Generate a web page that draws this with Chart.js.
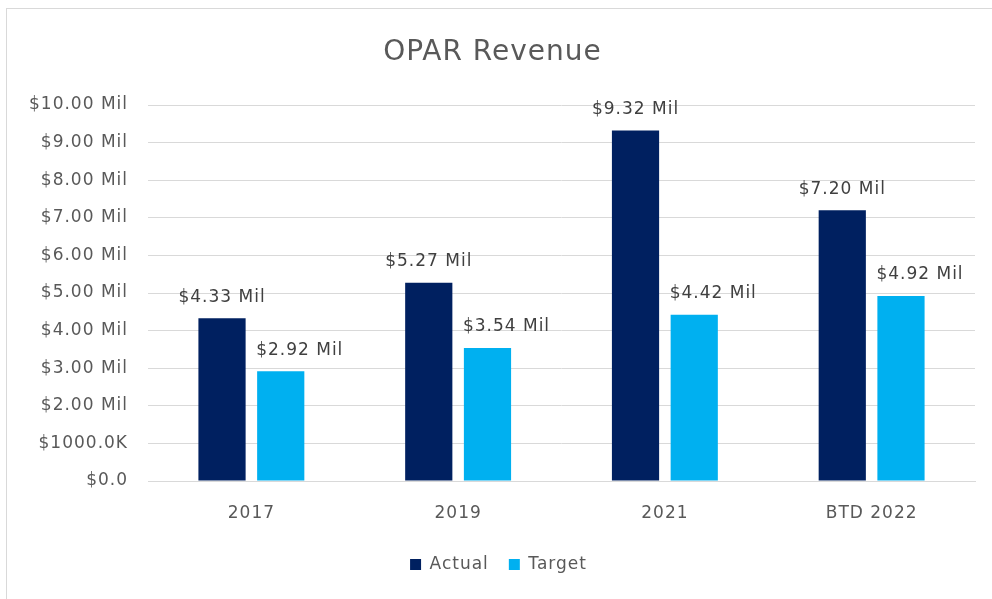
<!DOCTYPE html>
<html>
<head>
    <title>OPAR Revenue</title>
    <style>
        body {
            margin: 0;
            background-color: #ffffff;
        }

        #chartBox {
            position: absolute;
            left: 0;
            top: 0;
            width: 992px;
            height: 599px;
        }

        #frame {
            position: absolute;
            left: 6px;
            top: 8px;
            width: 990px;
            height: 595px;
            border-left: 1px solid #d9d9d9;
            border-top: 1px solid #d9d9d9;
        }
    </style>
    <script src="https://cdn.jsdelivr.net/npm/chart.js"></script>
</head>
<body>
    <div id="frame"></div>
    <div id="chartBox">
        <canvas id="revenueChart" width="992" height="599"></canvas>
    </div>

    <script>
        // datos (millones de dolares)
        var categorias = ['2017', '2019', '2021', 'BTD 2022'];
        var actual = [4.33, 5.27, 9.32, 7.20];
        var objetivo = [2.92, 3.54, 4.42, 4.92];

        var grisTexto = '#595959';
        var fuente = 'DejaVu Sans, sans-serif';

        function formatoEje(v) {
            if (v === 0) return '$0.0';
            if (v === 1) return '$1000.0K';
            return '$' + v.toFixed(2) + ' Mil';
        }

        // etiquetas encima de las barras
        var etiquetasPlugin = {
            id: 'etiquetas',
            afterDatasetsDraw: function(chart) {
                var ctx = chart.ctx;
                ctx.save();
                ctx.font = '17px ' + fuente;
                ctx.fillStyle = '#404040';
                ctx.textAlign = 'center';
                ctx.textBaseline = 'middle';
                try { ctx.letterSpacing = '1px'; } catch (e) {}
                chart.data.datasets.forEach(function(ds, i) {
                    var meta = chart.getDatasetMeta(i);
                    var desplaza = i === 1 ? 19 : 0;
                    meta.data.forEach(function(bar, j) {
                        ctx.fillText('$' + ds.data[j].toFixed(2) + ' Mil', bar.x + desplaza, bar.y - 21);
                    });
                });
                ctx.restore();
            }
        };

        var espaciadoPlugin = {
            id: 'espaciado',
            beforeDraw: function(chart) {
                try { chart.ctx.letterSpacing = '1px'; } catch (e) {}
            }
        };

        new Chart(document.getElementById('revenueChart'), {
            type: 'bar',
            data: {
                labels: categorias,
                datasets: [{
                    label: 'Actual',
                    data: actual,
                    backgroundColor: '#002060'
                }, {
                    label: 'Target',
                    data: objetivo,
                    backgroundColor: '#00b0f0'
                }]
            },
            options: {
                responsive: false,
                animation: false,
                layout: {
                    padding: { left: 10, right: 17, top: 0, bottom: 16 }
                },
                datasets: {
                    bar: {
                        categoryPercentage: 0.568,
                        barPercentage: 0.804
                    }
                },
                plugins: {
                    title: {
                        display: true,
                        text: 'OPAR Revenue',
                        color: grisTexto,
                        font: { family: fuente, size: 28, weight: 'normal', lineHeight: 1.2 },
                        padding: { top: 36, bottom: 35.4 }
                    },
                    legend: {
                        position: 'bottom',
                        labels: {
                            color: grisTexto,
                            font: { family: fuente, size: 17 },
                            boxWidth: 11,
                            boxHeight: 11,
                            padding: 20
                        }
                    },
                    tooltip: { enabled: false }
                },
                scales: {
                    x: {
                        grid: { display: false, drawTicks: false },
                        border: { color: '#d9d9d9' },
                        ticks: {
                            color: grisTexto,
                            font: { family: fuente, size: 17 },
                            padding: 22
                        },
                        afterFit: function(scale) { scale.height = 55; }
                    },
                    y: {
                        min: 0,
                        max: 10,
                        grid: { color: '#d9d9d9', drawTicks: false },
                        border: { display: false },
                        ticks: {
                            stepSize: 1,
                            color: grisTexto,
                            font: { family: fuente, size: 17 },
                            padding: 20,
                            callback: function(v) { return formatoEje(v); }
                        },
                        afterFit: function(scale) { scale.width = 138; }
                    }
                }
            },
            plugins: [espaciadoPlugin, etiquetasPlugin]
        });
    </script>
</body>
</html>
